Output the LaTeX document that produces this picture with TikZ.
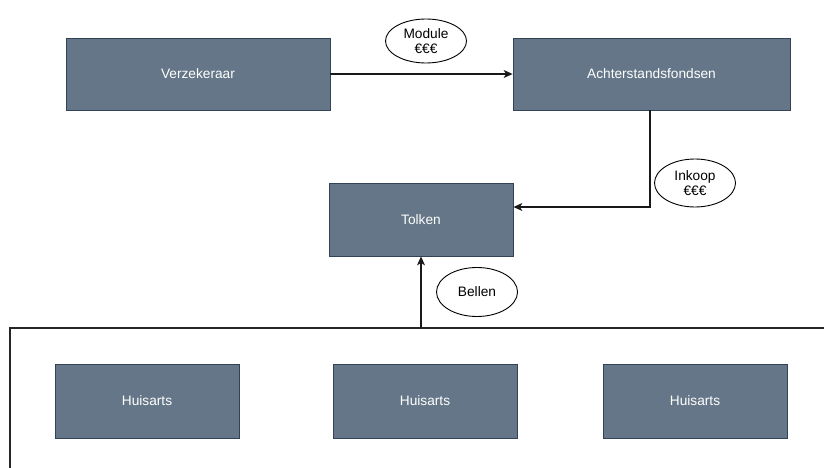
\documentclass[tikz,border=0pt]{standalone}
\usepackage{fontspec}
\setmainfont{Liberation Sans}
\usetikzlibrary{arrows.meta,shapes.geometric}
\definecolor{boxfill}{HTML}{647687}
\definecolor{boxline}{HTML}{314354}
\tikzset{
  actor/.style={draw=boxline, fill=boxfill, line width=0.8pt, text=white, font=\fontsize{13.7}{15.5}\selectfont, inner sep=0pt},
  tag/.style={draw=black, ellipse, line width=0.9pt, fill=white, font=\fontsize{13.7}{15.5}\selectfont, inner sep=0pt, align=center},
  flow/.style={draw=black!90, line width=1.1pt, -{Stealth[length=9pt,width=8pt,inset=2.5pt]}},
}
\begin{document}
\begin{tikzpicture}[x=1pt,y=-1pt]
\useasboundingbox (0,0) rectangle (824,468);
% container
\draw[line width=1.1pt, draw=black!85] (10,468) -- (10,328) -- (824,328);
% boxes
\node[actor, minimum width=264pt, minimum height=72pt] (verz) at (198,74) {Verzekeraar};
\node[actor, minimum width=277pt, minimum height=72pt] (acht) at (651.5,74) {Achterstandsfondsen};
\node[actor, minimum width=184pt, minimum height=73pt] (tolk) at (421,219.5) {Tolken};
\node[actor, minimum width=184pt, minimum height=74pt] (h1) at (147,401) {Huisarts};
\node[actor, minimum width=184pt, minimum height=74pt] (h2) at (425,401) {Huisarts};
\node[actor, minimum width=184pt, minimum height=74pt] (h3) at (695,401) {Huisarts};
\coordinate (cont) at (421,328);
\coordinate (bend) at (650,207);
% tags
\node[tag, minimum width=81pt, minimum height=44pt] (module) at (426,41) {Module\\€€€};
\node[tag, minimum width=81pt, minimum height=48pt] (inkoop) at (695,183) {Inkoop\\€€€};
\node[tag, minimum width=81pt, minimum height=49pt] (bellen) at (477,292) {Bellen};
% connectors
\draw[flow] (verz.east) -- (acht.west);
\draw[flow] (acht.south -| bend) -- (bend) -- (tolk.east |- bend);
\draw[flow] (cont) -- (tolk.south);
\end{tikzpicture}
\end{document}
